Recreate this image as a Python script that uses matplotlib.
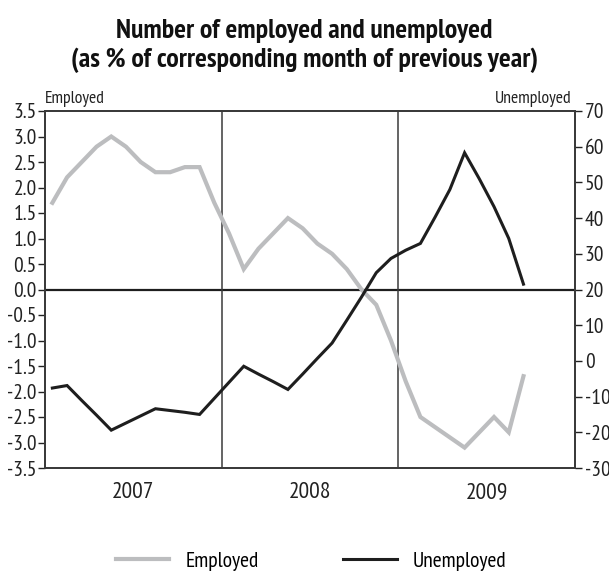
import numpy as np
import matplotlib
matplotlib.use("Agg")
import matplotlib.pyplot as plt
from matplotlib.lines import Line2D

# Monthly data, Jan 2007 - Sep 2009
employed = [1.7, 2.2, 2.5, 2.8, 3.0, 2.8, 2.5, 2.3, 2.3, 2.4, 2.4, 1.7,
            1.1, 0.4, 0.8, 1.1, 1.4, 1.2, 0.9, 0.7, 0.4, 0.0, -0.3, -1.0,
            -1.8, -2.5, -2.7, -2.9, -3.1, -2.8, -2.5, -2.8, -1.7]
unemployed = [-7.6, -6.9, -11.1, -15.2, -19.4, -17.4, -15.4, -13.4, -13.9, -14.4, -15.0, -10.5,
              -6.0, -1.5, -3.7, -5.8, -8.0, -3.7, 0.7, 5.0, 11.4, 17.9, 24.7, 28.7,
              31.0, 32.9, 40.3, 48.0, 58.3, 51.0, 43.2, 34.3, 21.5]
years = ["2007", "2008", "2009"]
left_ticks = [-3.5, -3.0, -2.5, -2.0, -1.5, -1.0, -0.5, 0.0, 0.5, 1.0, 1.5, 2.0, 2.5, 3.0, 3.5]
right_ticks = [-30, -20, -10, 0, 10, 20, 30, 40, 50, 60, 70]

FONT = ["PT Sans Narrow", "Roboto Condensed", "DejaVu Sans"]
plt.rcParams["font.family"] = FONT

GREY = "#bcbdbf"
DARK = "#1e1e1e"
FRAME = "#3a3a3a"
TXT = "#222222"

fig = plt.figure(figsize=(6.09, 5.74), dpi=100)
ax = fig.add_axes([45 / 609, 1 - 468 / 574, 530 / 609, 357 / 574])
ax2 = ax.twinx()

months = np.arange(len(employed)) + 0.5
ax.plot(months, employed, color=GREY, lw=3.0, solid_joinstyle="miter", zorder=3)
ax2.plot(months, unemployed, color=DARK, lw=2.2, solid_joinstyle="miter", zorder=3)

ax.set_xlim(0, 12 * len(years))
ax.set_ylim(-3.5, 3.5)
ax2.set_ylim(-30, 70)

# zero line and year separators
ax.axhline(0, color=DARK, lw=1.6, zorder=2)
for k in range(1, len(years)):
    ax.axvline(12 * k, color=FRAME, lw=1.1, zorder=2)

ax.set_xticks([12 * k + 6 for k in range(len(years))])
ax.set_xticklabels(years, fontsize=17)
ax.tick_params(axis="x", length=0, pad=10, colors=TXT)

ax.set_yticks(left_ticks)
ax.set_yticklabels([f"{v:.1f}" for v in left_ticks], fontsize=15.5)
ax.tick_params(axis="y", length=5, width=1, pad=1, colors=TXT)

ax2.set_yticks(right_ticks)
ax2.set_yticklabels([str(v) for v in right_ticks], fontsize=15.5)
ax2.tick_params(axis="y", length=5, width=1, pad=2, colors=TXT)

for a in (ax, ax2):
    for s in a.spines.values():
        s.set_color(FRAME)
        s.set_linewidth(1.3)

ax.text(0.0, 1.012, "Employed", transform=ax.transAxes, ha="left", va="bottom",
        fontsize=12.7, color=TXT)
ax.text(0.993, 1.012, "Unemployed", transform=ax.transAxes, ha="right", va="bottom",
        fontsize=12.7, color=TXT)

fig.text(0.5, 1 - 38 / 574, "Number of employed and unemployed", ha="center",
         va="baseline", fontsize=20, fontweight="bold", color="#111111")
fig.text(0.5, 1 - 67 / 574, "(as % of corresponding month of previous year)", ha="center",
         va="baseline", fontsize=20, fontweight="bold", color="#111111")

handles = [Line2D([], [], color=GREY, lw=3.0), Line2D([], [], color=DARK, lw=2.2)]
fig.legend(handles, ["Employed", "Unemployed"], loc="center", ncol=2,
           bbox_to_anchor=(311 / 609, 1 - 561 / 574), frameon=False, fontsize=15.5,
           handlelength=2.5, handletextpad=0.75, columnspacing=3.9)

fig.savefig("out.png", dpi=100)
